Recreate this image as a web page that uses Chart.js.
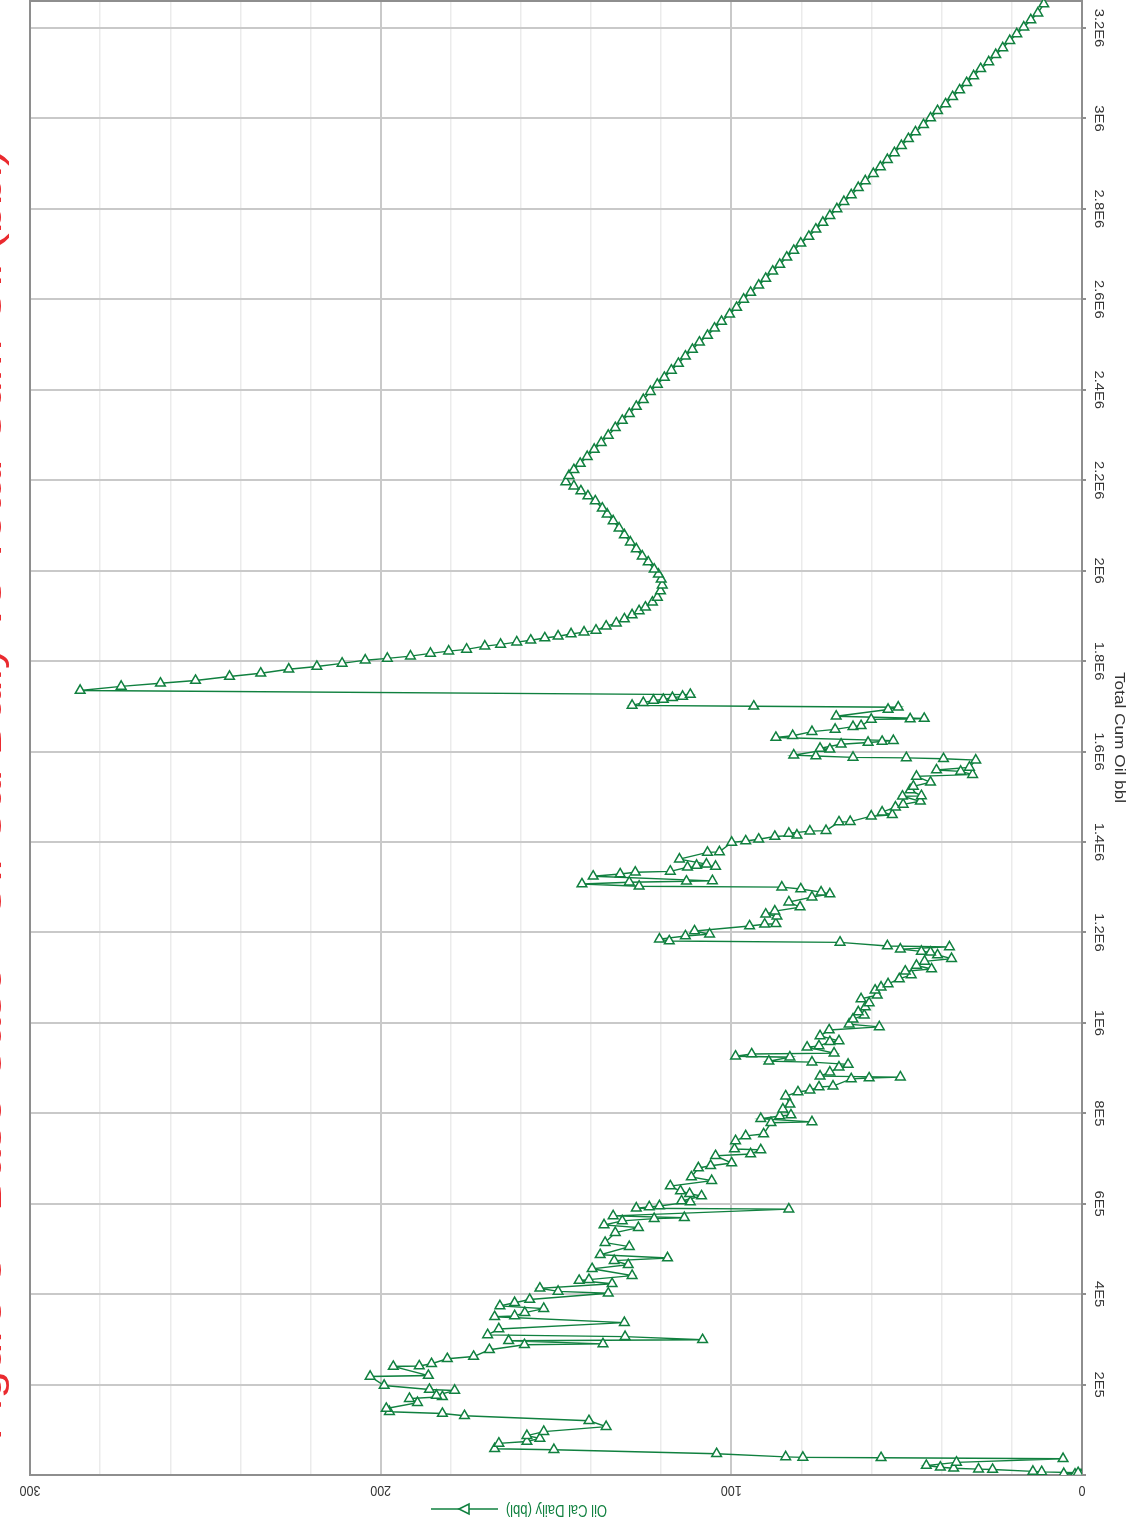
<!DOCTYPE html>
<html>
<head>
<meta charset="utf-8">
<script src="https://cdn.jsdelivr.net/npm/chart.js@4.4.0/dist/chart.umd.min.js"></script>
<style>
  html, body { margin: 0; padding: 0; background: #fff; overflow: hidden; }
  #wrap { position: relative; width: 1130px; height: 1526px; }
</style>
</head>
<body>
<div id="wrap"><canvas id="rateChart"></canvas></div>
<script>
// cumulative oil, thousand bbl
const cumOilK = [
  0.5, 1.5, 3, 5, 7, 8, 12, 13, 15, 17,
  21, 28, 36, 38, 39, 40, 47, 56, 58, 70,
  74, 81, 87, 96, 107, 120, 131, 136, 140, 147,
  160, 169, 173, 176, 187, 189, 198, 218, 220, 240,
  241, 246, 257, 262, 277, 288, 290, 297, 299, 306,
  310, 323, 337, 350, 352, 359, 368, 374, 381, 388,
  402, 406, 413, 423, 430, 432, 441, 456, 465, 474,
  480, 487, 505, 514, 536, 547, 553, 562, 567, 569,
  573, 588, 590, 593, 595, 604, 606, 617, 622, 628,
  639, 651, 659, 679, 684, 690, 706, 710, 719, 721,
  739, 750, 754, 779, 781, 788, 794, 796, 809, 820,
  838, 847, 851, 858, 860, 876, 878, 880, 882, 891,
  902, 908, 913, 915, 924, 926, 931, 933, 946, 949,
  958, 960,
  971, 984, 991, 997, 1008, 1017, 1024, 1035, 1044, 1053,
  1061, 1072, 1079, 1086, 1097, 1106, 1114, 1119, 1127, 1136,
  1142, 1150, 1156, 1158, 1163, 1168, 1170, 1178, 1181, 1185,
  1192, 1196, 1203,
  1214, 1218, 1219, 1236, 1240, 1247, 1256, 1267, 1278, 1285,
  1289, 1296, 1300, 1302, 1307, 1311, 1313, 1314, 1324, 1329,
  1333, 1335, 1344, 1346, 1348, 1351, 1362, 1377, 1378, 1399,
  1402, 1406, 1412, 1415, 1419, 1424, 1425, 1444, 1445, 1457,
  1460, 1466, 1477, 1483, 1490, 1501, 1502, 1515, 1523, 1532,
  1545, 1549, 1556, 1559, 1565, 1581, 1584, 1586, 1587, 1590,
  1592, 1605, 1607, 1616, 1620, 1622, 1624, 1631, 1635, 1644,
  1649, 1655, 1657, 1671, 1672, 1673, 1678, 1693, 1698, 1700,
  1702, 1708, 1713, 1715, 1719, 1722, 1726, 1735,
  1744, 1751, 1757, 1766, 1773, 1782, 1788, 1795, 1802, 1806,
  1811, 1817, 1822, 1826, 1833, 1837, 1842, 1846, 1851, 1855,
  1860, 1864, 1868, 1877, 1884, 1893, 1902, 1911, 1919, 1930,
  1941, 1955, 1968, 1981, 1992, 2003, 2019, 2032, 2048, 2063,
  2079, 2094, 2110, 2125, 2138, 2154, 2165, 2176, 2187, 2196,
  2210, 2223, 2237, 2252, 2268, 2283, 2299, 2316, 2332, 2347,
  2363, 2378, 2396, 2412, 2427, 2443, 2458, 2474, 2489, 2505,
  2520, 2536, 2551, 2567, 2582, 2600, 2615, 2631, 2646, 2662,
  2677, 2693, 2708, 2724, 2739, 2755, 2770, 2785, 2800, 2816,
  2831, 2847, 2862, 2878, 2893, 2909, 2924, 2940, 2955, 2970,
  2986, 3001, 3017, 3032, 3048, 3063, 3079, 3094, 3110, 3125,
  3141, 3156, 3172, 3187, 3202, 3218, 3233, 3253
];

// oil cal daily, bbl
const oilRate = [
  0.3, 2.0, 5.2, 1.1, 11.5, 14.0, 25.5, 29.5, 36.6, 40.4,
  44.4, 35.8, 5.4, 57.3, 79.6, 84.5, 104.2, 150.6, 167.5, 166.3,
  158.3, 154.6, 158.3, 153.5, 135.7, 140.6, 176.1, 182.4, 197.5, 198.4,
  189.5, 191.8, 182.4, 184.1, 178.9, 186.1, 199.0, 203.0, 186.4, 196.4,
  189.0, 185.5, 181.0, 173.5, 169.0, 159.0, 136.6, 163.5, 108.2, 130.3,
  169.5, 166.3, 130.5, 167.5, 161.8, 158.9, 153.5, 166.0, 161.8, 157.5,
  135.1, 149.4, 154.6, 134.0, 143.4, 140.6, 128.3, 139.7, 129.4, 133.4,
  118.2, 137.4, 129.1, 136.0, 133.1, 126.5, 136.3, 131.1, 122.0, 113.4,
  133.7, 83.6, 127.1, 123.4, 120.5, 111.7, 114.2, 108.5, 111.9, 114.5,
  117.4, 105.6, 111.4, 109.4, 105.9, 99.9, 104.5, 94.5, 91.6, 99.1,
  98.8, 95.9, 90.8, 88.7, 77.0, 91.6, 86.2, 83.0, 85.3, 83.3,
  84.5, 81.0, 77.6, 75.0, 71.0, 65.8, 60.7, 51.8, 74.7, 71.9,
  69.3, 66.7, 77.0, 89.3, 83.3, 98.8, 94.2, 70.7, 78.4, 75.0,
  71.9, 69.3,
  74.7, 72.1, 57.8, 66.4, 65.3, 62.1, 63.8, 61.8, 60.7, 63.0,
  58.4, 59.0, 57.3, 55.3, 52.1, 48.7, 50.4, 42.9, 47.2, 44.9,
  37.2, 41.2, 43.2, 45.8, 51.8, 37.8, 55.5, 69.0, 117.7, 120.5,
  113.1, 106.2, 110.5,
  94.8, 90.5, 87.3, 87.0, 90.2, 87.6, 80.4, 83.6, 77.0, 71.9,
  74.4, 80.2, 85.6, 126.3, 142.6, 129.1, 112.8, 105.4, 139.4, 131.7,
  127.4, 117.4, 112.5, 104.5, 109.9, 107.1, 114.8, 106.8, 103.4, 99.9,
  95.9, 92.2, 87.6, 81.3, 83.6, 77.6, 73.0, 69.3, 66.1, 60.1,
  54.1, 57.0, 53.2, 51.0, 46.1, 51.2, 45.8, 49.0, 48.1, 43.2,
  47.2, 31.2, 34.6, 41.5, 32.1, 30.3, 39.5, 50.1, 65.3, 75.9,
  82.2, 71.9, 74.7, 68.7, 61.0, 57.0, 53.8, 87.3, 82.5, 77.0,
  70.4, 65.3, 63.0, 60.1, 49.0, 45.0, 70.1, 55.3, 52.4, 93.6,
  128.3, 125.1, 122.2, 119.4, 116.8, 113.9, 111.7, 285.7,
  274.0, 262.8, 252.8, 243.1, 234.2, 226.2, 218.2, 211.0, 204.4, 198.1,
  191.5, 185.8, 180.6, 175.5, 170.3, 165.8, 161.2, 157.2, 153.2, 149.4,
  145.7, 142.0, 138.6, 135.7, 132.8, 130.5, 128.3, 126.3, 124.5, 122.5,
  121.1, 120.2, 119.7, 120.0, 120.8, 122.0, 123.7, 125.4, 127.1, 128.8,
  130.5, 132.0, 133.7, 135.4, 136.8, 138.8, 140.9, 142.9, 144.9, 147.2,
  146.3, 144.9, 143.1, 141.1, 139.1, 137.1, 135.1, 133.1, 131.1, 129.1,
  127.1, 125.1, 123.1, 121.1, 119.1, 117.1, 115.1, 113.1, 111.1, 109.1,
  106.8, 104.8, 102.8, 100.5, 98.5, 96.5, 94.5, 92.2, 90.2, 88.2,
  86.2, 84.2, 82.2, 80.2, 77.9, 75.9, 73.9, 71.9, 69.9, 67.9,
  65.8, 63.8, 61.8, 59.5, 57.5, 55.5, 53.5, 51.5, 49.5, 47.5,
  45.2, 43.2, 41.2, 38.9, 36.9, 34.9, 32.9, 30.9, 28.9, 26.6,
  24.6, 22.6, 20.6, 18.6, 16.6, 14.6, 12.6, 10.9
];

const rateTicks = [0, 100, 200, 300];
const seriesName = 'Oil Cal Daily (bbl)';
const cumAxisTitle = 'Total Cum Oil bbl';
const chartTitle = 'Figure 3 - Base Case - Oil Cal Daily vs Total Cum Oil (bbl)';

const green = '#10803f';
const textFont = '"Liberation Sans", Arial, sans-serif';
const stretch = 1.23;   // the picture's text is a bit taller than it is wide

function cumLabel(k) {
  const v = k * 1000;
  if (v < 1e6) return (v / 1e5) + 'E5';
  return (Math.round(v / 1e5) / 10) + 'E6';
}

const points = cumOilK.map((c, i) => ({ x: oilRate[i], y: c }));

// rotated labels, legend, title and the frame are drawn by hand
const sideText = {
  id: 'sideText',
  beforeDatasetsDraw(chart) {
    const { ctx, chartArea } = chart;
    ctx.save();
    ctx.strokeStyle = '#8e8e8e';
    ctx.lineWidth = 2;
    ctx.beginPath();
    ctx.moveTo(chartArea.left, chartArea.bottom);
    ctx.lineTo(chartArea.left, chartArea.top + 1);
    ctx.lineTo(chartArea.right, chartArea.top + 1);
    ctx.stroke();
    ctx.restore();
  },
  afterDraw(chart) {
    const { ctx, chartArea, scales: { x, y } } = chart;
    ctx.save();
    ctx.textAlign = 'center';
    ctx.textBaseline = 'middle';
    ctx.fillStyle = '#333';

    // rate ticks, upside down under the plot
    ctx.font = '12.5px ' + textFont;
    rateTicks.forEach(v => {
      ctx.setTransform(-1, 0, 0, -stretch, x.getPixelForValue(v), chartArea.bottom + 15);
      ctx.fillText(String(v), 0, 0);
    });

    // cum ticks, reading downwards on the right
    ctx.font = '12px ' + textFont;
    y.ticks.forEach(t => {
      if (t.value <= 0) return;
      ctx.setTransform(0, stretch, -1, 0, chartArea.right + 16, y.getPixelForValue(t.value));
      ctx.fillText(cumLabel(t.value), 0, 0);
    });

    ctx.font = '14px ' + textFont;
    ctx.setTransform(0, stretch, -1, 0, chartArea.right + 37, (chartArea.top + chartArea.bottom) / 2);
    ctx.fillText(cumAxisTitle, 0, 0);
    ctx.setTransform(1, 0, 0, 1, 0, 0);

    // legend, upside down at the bottom
    const ly = 1509;
    ctx.strokeStyle = green;
    ctx.lineWidth = 1.6;
    ctx.beginPath();
    ctx.moveTo(431, ly);
    ctx.lineTo(498, ly);
    ctx.stroke();
    ctx.fillStyle = '#fff';
    ctx.beginPath();
    ctx.moveTo(459, ly);
    ctx.lineTo(469, ly - 5);
    ctx.lineTo(469, ly + 5);
    ctx.closePath();
    ctx.fill();
    ctx.stroke();

    ctx.fillStyle = green;
    ctx.font = '13px ' + textFont;
    ctx.textAlign = 'left';
    ctx.setTransform(-1, 0, 0, -stretch, 607, ly);
    ctx.fillText(seriesName, 0, 0);
    ctx.setTransform(1, 0, 0, 1, 0, 0);

    // title reads bottom to top with its letter tops to the left,
    // so only the foot of the line shows at the left edge
    ctx.fillStyle = '#ea2a2f';
    ctx.font = '34px ' + textFont;
    const tw = ctx.measureText(chartTitle).width * stretch;
    const fs = Math.max(20, Math.min(44, 34 * 1290 / tw));
    ctx.font = fs.toFixed(1) + 'px ' + textFont;
    ctx.textAlign = 'center';
    ctx.textBaseline = 'alphabetic';
    ctx.setTransform(0, -stretch, 1, 0, 0.5, 795);
    ctx.fillText(chartTitle, 0, 0);

    ctx.restore();
  }
};

const chart = new Chart(document.getElementById('rateChart'), {
  type: 'scatter',
  data: {
    datasets: [{
      label: seriesName,
      data: points,
      showLine: true,
      borderColor: green,
      borderWidth: 1.4,
      tension: 0,
      pointStyle: 'triangle',
      pointRadius: 5.6,
      pointBorderWidth: 1.5,
      pointBorderColor: green,
      pointBackgroundColor: '#fff'
    }]
  },
  options: {
    responsive: true,
    maintainAspectRatio: false,
    animation: false,
    layout: { autoPadding: false, padding: { left: 30, right: 44, top: 0, bottom: 51 } },
    plugins: { legend: { display: false }, tooltip: { enabled: false } },
    scales: {
      x: {
        type: 'linear',
        position: 'bottom',
        reverse: true,
        min: 0,
        max: 300,
        ticks: { display: false, stepSize: 20 },
        grid: {
          drawTicks: false,
          color: c => (c.tick && c.tick.value % 100 === 0) ? '#c9c9c9' : '#ebebeb',
          lineWidth: c => (c.tick && c.tick.value % 100 === 0) ? 2 : 1.5
        },
        border: { color: '#8e8e8e', width: 2 }
      },
      y: {
        type: 'linear',
        position: 'right',
        min: 0,
        max: 3262,
        ticks: { display: false, stepSize: 200, includeBounds: false },
        grid: { color: '#c9c9c9', lineWidth: 2, tickLength: 4, tickColor: '#8e8e8e' },
        border: { color: '#8e8e8e', width: 2 }
      }
    }
  },
  plugins: [sideText]
});
</script>
</body>
</html>
